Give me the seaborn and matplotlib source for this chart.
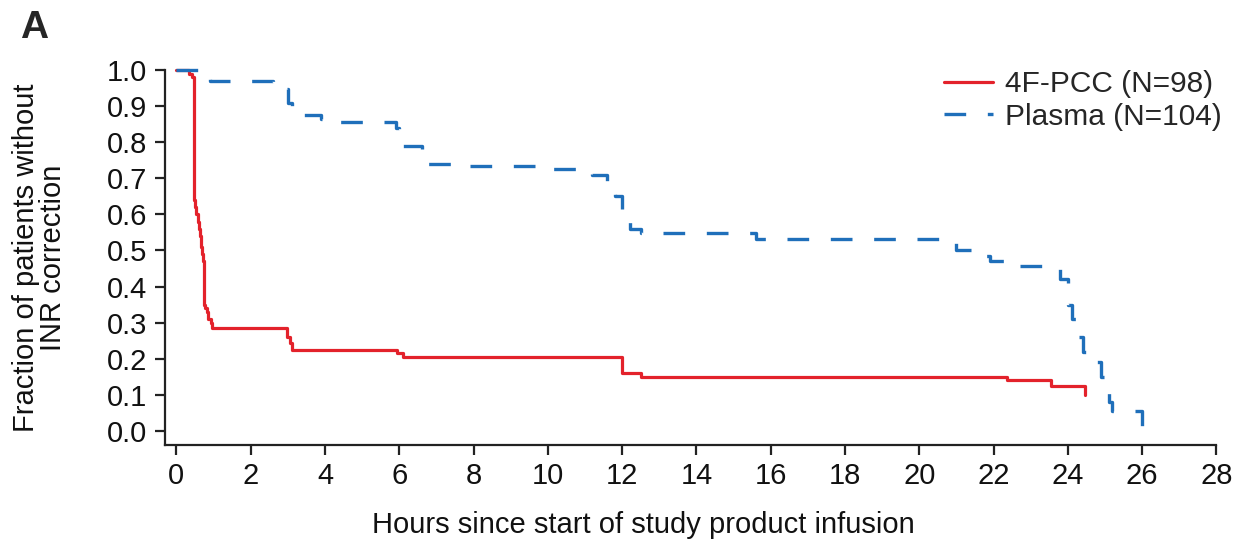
import numpy as np
import pandas as pd
import matplotlib
matplotlib.use("Agg")
import matplotlib.pyplot as plt
import seaborn as sns

# Kaplan-Meier style step data (hours, fraction)
pcc_hours = [0, 0.35, 0.42, 0.46, 0.48, 0.50, 0.52, 0.57, 0.60, 0.64, 0.67, 0.70, 0.72,
             0.75, 0.78, 0.82, 0.86, 0.92, 0.97, 2.98, 3.05, 3.12, 5.95, 6.10,
             12.0, 12.5, 22.35, 23.55, 24.45]
pcc_frac = [1.0, 0.99, 0.98, 0.965, 0.64, 0.62, 0.60, 0.58, 0.56, 0.54, 0.51, 0.49, 0.47,
            0.35, 0.34, 0.33, 0.31, 0.30, 0.285, 0.26, 0.245, 0.225, 0.215, 0.205,
            0.16, 0.15, 0.14, 0.125, 0.10]

plasma_hours = [0, 0.7, 0.9, 2.6, 2.7, 3.0, 3.1, 3.9, 4.1, 5.9, 6.0, 6.1, 6.6, 6.7, 7.7,
                10.0, 10.9, 11.2, 11.6, 11.8, 12.0, 12.2, 12.5, 15.6, 20.8, 21.0,
                21.6, 21.9, 22.6, 23.8, 24.0, 24.1, 24.25, 24.4, 24.75, 24.9, 25.1,
                25.2, 26.0]
plasma_frac = [1.0, 0.98, 0.97, 0.96, 0.947, 0.91, 0.875, 0.865, 0.855, 0.84, 0.80, 0.79,
               0.765, 0.74, 0.735, 0.725, 0.72, 0.71, 0.68, 0.65, 0.59, 0.56, 0.548,
               0.532, 0.52, 0.50, 0.485, 0.47, 0.457, 0.42, 0.35, 0.31, 0.26, 0.22,
               0.19, 0.15, 0.08, 0.055, 0.0]

labels = ["4F-PCC (N=98)", "Plasma (N=104)"]
x_ticks = np.arange(0, 29, 2)
y_ticks = np.round(np.arange(0, 1.01, 0.1), 1)

sns.set_style("ticks")
plt.rcParams['font.family'] = ['Liberation Sans', 'DejaVu Sans']
fs = 21

fig = plt.figure(figsize=(12.4, 5.45), dpi=100)
ax = fig.add_axes([0.133, 0.1835, 0.848, 0.688])

df_pcc = pd.DataFrame({"hours": pcc_hours, "frac": pcc_frac})
df_pla = pd.DataFrame({"hours": plasma_hours, "frac": plasma_frac})

sns.lineplot(data=df_pcc, x="hours", y="frac", ax=ax, estimator=None,
             drawstyle="steps-post", color="#e3222b", linewidth=2.3,
             label=labels[0], clip_on=False)
sns.lineplot(data=df_pla, x="hours", y="frac", ax=ax, estimator=None,
             drawstyle="steps-post", color="#1f6fba", linewidth=2.4,
             linestyle=(0, (6.5, 6.5)), label=labels[1], clip_on=False)

ax.set_xlim(-0.31, 28)
ax.set_ylim(-0.039, 1.0)
ax.set_xticks(x_ticks)
ax.set_yticks(y_ticks)
ax.set_yticklabels([f"{v:.1f}" for v in y_ticks])
ax.tick_params(axis="both", labelsize=fs, length=7, width=1.6, color="#222222",
               labelcolor="#111111")
ax.tick_params(axis="y", pad=6)
ax.tick_params(axis="x", pad=5)
for s in ["left", "bottom"]:
    ax.spines[s].set_linewidth(1.6)
    ax.spines[s].set_color("#222222")
sns.despine(ax=ax)

ax.set_xlabel("Hours since start of study product infusion", fontsize=fs,
              color="#111111")
ax.xaxis.set_label_coords(0.455, -0.175)
ax.set_ylabel("Fraction of patients without\nINR correction", fontsize=fs,
              linespacing=0.95, color="#111111")
ax.yaxis.set_label_coords(-0.093, 0.5)

leg = ax.legend(loc="upper right", bbox_to_anchor=(0.995, 0.893),
                bbox_transform=fig.transFigure, frameon=False, fontsize=21.5,
                handlelength=1.65, handletextpad=0.4, labelspacing=0.15,
                borderaxespad=0)

fig.text(0.016, 0.93, "A", fontsize=28, fontweight="bold")

fig.savefig("out.png", dpi=100)
